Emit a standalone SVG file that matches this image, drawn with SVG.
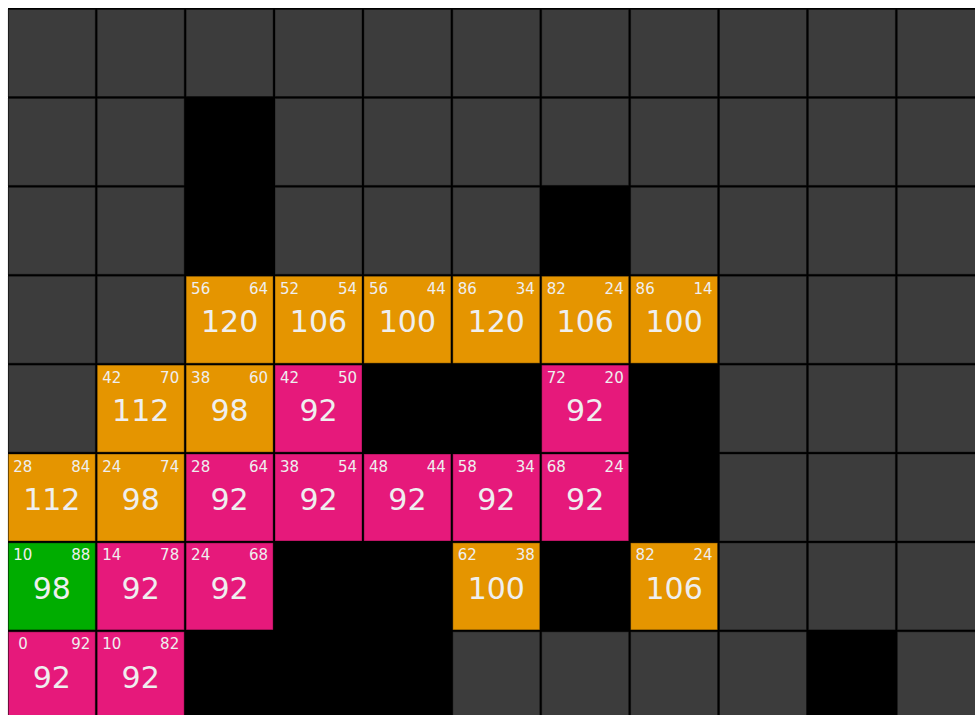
<svg xmlns="http://www.w3.org/2000/svg" width="975" height="715" viewBox="0 0 975 715">
<style>
rect.c{width:87px;height:87px;stroke:rgba(0,0,0,0.35);stroke-width:1}
.gr{fill:#3c3c3c}
.or{fill:#e59500}
.pk{fill:#e6197b}
.gn{fill:#00ad00}
text{font-family:"DejaVu Sans",sans-serif;fill:#efefef}
.s{font-size:15px}
.e{text-anchor:end}
.b{font-size:30px;text-anchor:middle}
</style>
<defs>
<rect id="g" class="c gr" width="87" height="87"/>
</defs>
<rect x="0" y="0" width="975" height="715" fill="#ffffff"/>
<rect x="8" y="8" width="967" height="707" fill="#000000"/>
<g id="grid">
<use href="#g" x="8.3" y="9.5"/><use href="#g" x="97.2" y="9.5"/><use href="#g" x="186.1" y="9.5"/><use href="#g" x="275" y="9.5"/><use href="#g" x="363.9" y="9.5"/><use href="#g" x="452.8" y="9.5"/><use href="#g" x="541.7" y="9.5"/><use href="#g" x="630.6" y="9.5"/><use href="#g" x="719.5" y="9.5"/><use href="#g" x="808.4" y="9.5"/><use href="#g" x="897.3" y="9.5"/>
<use href="#g" x="8.3" y="98.4"/><use href="#g" x="97.2" y="98.4"/><use href="#g" x="275" y="98.4"/><use href="#g" x="363.9" y="98.4"/><use href="#g" x="452.8" y="98.4"/><use href="#g" x="541.7" y="98.4"/><use href="#g" x="630.6" y="98.4"/><use href="#g" x="719.5" y="98.4"/><use href="#g" x="808.4" y="98.4"/><use href="#g" x="897.3" y="98.4"/>
<use href="#g" x="8.3" y="187.3"/><use href="#g" x="97.2" y="187.3"/><use href="#g" x="275" y="187.3"/><use href="#g" x="363.9" y="187.3"/><use href="#g" x="452.8" y="187.3"/><use href="#g" x="630.6" y="187.3"/><use href="#g" x="719.5" y="187.3"/><use href="#g" x="808.4" y="187.3"/><use href="#g" x="897.3" y="187.3"/>
<use href="#g" x="8.3" y="276.2"/><use href="#g" x="97.2" y="276.2"/><use href="#g" x="719.5" y="276.2"/><use href="#g" x="808.4" y="276.2"/><use href="#g" x="897.3" y="276.2"/>
<use href="#g" x="8.3" y="365.1"/><use href="#g" x="719.5" y="365.1"/><use href="#g" x="808.4" y="365.1"/><use href="#g" x="897.3" y="365.1"/>
<use href="#g" x="719.5" y="454"/><use href="#g" x="808.4" y="454"/><use href="#g" x="897.3" y="454"/>
<use href="#g" x="719.5" y="542.9"/><use href="#g" x="808.4" y="542.9"/><use href="#g" x="897.3" y="542.9"/>
<use href="#g" x="452.8" y="631.8"/><use href="#g" x="541.7" y="631.8"/><use href="#g" x="630.6" y="631.8"/><use href="#g" x="719.5" y="631.8"/><use href="#g" x="897.3" y="631.8"/>
</g>
<g id="connectors"></g>
<g id="n3_2" transform="translate(186.1,276.2)"><rect class="c or"/><text class="s" x="5" y="17.5">56</text><text class="s e" x="82" y="17.5">64</text><text class="b" x="43.5" y="56">120</text></g>
<g id="n3_3" transform="translate(275,276.2)"><rect class="c or"/><text class="s" x="5" y="17.5">52</text><text class="s e" x="82" y="17.5">54</text><text class="b" x="43.5" y="56">106</text></g>
<g id="n3_4" transform="translate(363.9,276.2)"><rect class="c or"/><text class="s" x="5" y="17.5">56</text><text class="s e" x="82" y="17.5">44</text><text class="b" x="43.5" y="56">100</text></g>
<g id="n3_5" transform="translate(452.8,276.2)"><rect class="c or"/><text class="s" x="5" y="17.5">86</text><text class="s e" x="82" y="17.5">34</text><text class="b" x="43.5" y="56">120</text></g>
<g id="n3_6" transform="translate(541.7,276.2)"><rect class="c or"/><text class="s" x="5" y="17.5">82</text><text class="s e" x="82" y="17.5">24</text><text class="b" x="43.5" y="56">106</text></g>
<g id="n3_7" transform="translate(630.6,276.2)"><rect class="c or"/><text class="s" x="5" y="17.5">86</text><text class="s e" x="82" y="17.5">14</text><text class="b" x="43.5" y="56">100</text></g>
<g id="n4_1" transform="translate(97.2,365.1)"><rect class="c or"/><text class="s" x="5" y="17.5">42</text><text class="s e" x="82" y="17.5">70</text><text class="b" x="43.5" y="56">112</text></g>
<g id="n4_2" transform="translate(186.1,365.1)"><rect class="c or"/><text class="s" x="5" y="17.5">38</text><text class="s e" x="82" y="17.5">60</text><text class="b" x="43.5" y="56">98</text></g>
<g id="n4_3" transform="translate(275,365.1)"><rect class="c pk"/><text class="s" x="5" y="17.5">42</text><text class="s e" x="82" y="17.5">50</text><text class="b" x="43.5" y="56">92</text></g>
<g id="n4_6" transform="translate(541.7,365.1)"><rect class="c pk"/><text class="s" x="5" y="17.5">72</text><text class="s e" x="82" y="17.5">20</text><text class="b" x="43.5" y="56">92</text></g>
<g id="n5_0" transform="translate(8.3,454)"><rect class="c or"/><text class="s" x="5" y="17.5">28</text><text class="s e" x="82" y="17.5">84</text><text class="b" x="43.5" y="56">112</text></g>
<g id="n5_1" transform="translate(97.2,454)"><rect class="c or"/><text class="s" x="5" y="17.5">24</text><text class="s e" x="82" y="17.5">74</text><text class="b" x="43.5" y="56">98</text></g>
<g id="n5_2" transform="translate(186.1,454)"><rect class="c pk"/><text class="s" x="5" y="17.5">28</text><text class="s e" x="82" y="17.5">64</text><text class="b" x="43.5" y="56">92</text></g>
<g id="n5_3" transform="translate(275,454)"><rect class="c pk"/><text class="s" x="5" y="17.5">38</text><text class="s e" x="82" y="17.5">54</text><text class="b" x="43.5" y="56">92</text></g>
<g id="n5_4" transform="translate(363.9,454)"><rect class="c pk"/><text class="s" x="5" y="17.5">48</text><text class="s e" x="82" y="17.5">44</text><text class="b" x="43.5" y="56">92</text></g>
<g id="n5_5" transform="translate(452.8,454)"><rect class="c pk"/><text class="s" x="5" y="17.5">58</text><text class="s e" x="82" y="17.5">34</text><text class="b" x="43.5" y="56">92</text></g>
<g id="n5_6" transform="translate(541.7,454)"><rect class="c pk"/><text class="s" x="5" y="17.5">68</text><text class="s e" x="82" y="17.5">24</text><text class="b" x="43.5" y="56">92</text></g>
<g id="n6_0" transform="translate(8.3,542.9)"><rect class="c gn"/><text class="s" x="5" y="17.5">10</text><text class="s e" x="82" y="17.5">88</text><text class="b" x="43.5" y="56">98</text></g>
<g id="n6_1" transform="translate(97.2,542.9)"><rect class="c pk"/><text class="s" x="5" y="17.5">14</text><text class="s e" x="82" y="17.5">78</text><text class="b" x="43.5" y="56">92</text></g>
<g id="n6_2" transform="translate(186.1,542.9)"><rect class="c pk"/><text class="s" x="5" y="17.5">24</text><text class="s e" x="82" y="17.5">68</text><text class="b" x="43.5" y="56">92</text></g>
<g id="n6_5" transform="translate(452.8,542.9)"><rect class="c or"/><text class="s" x="5" y="17.5">62</text><text class="s e" x="82" y="17.5">38</text><text class="b" x="43.5" y="56">100</text></g>
<g id="n6_7" transform="translate(630.6,542.9)"><rect class="c or"/><text class="s" x="5" y="17.5">82</text><text class="s e" x="82" y="17.5">24</text><text class="b" x="43.5" y="56">106</text></g>
<g id="n7_0" transform="translate(8.3,631.8)"><rect class="c pk"/><text class="s" x="10" y="17.5">0</text><text class="s e" x="82" y="17.5">92</text><text class="b" x="43.5" y="56">92</text></g>
<g id="n7_1" transform="translate(97.2,631.8)"><rect class="c pk"/><text class="s" x="5" y="17.5">10</text><text class="s e" x="82" y="17.5">82</text><text class="b" x="43.5" y="56">92</text></g>
</svg>
